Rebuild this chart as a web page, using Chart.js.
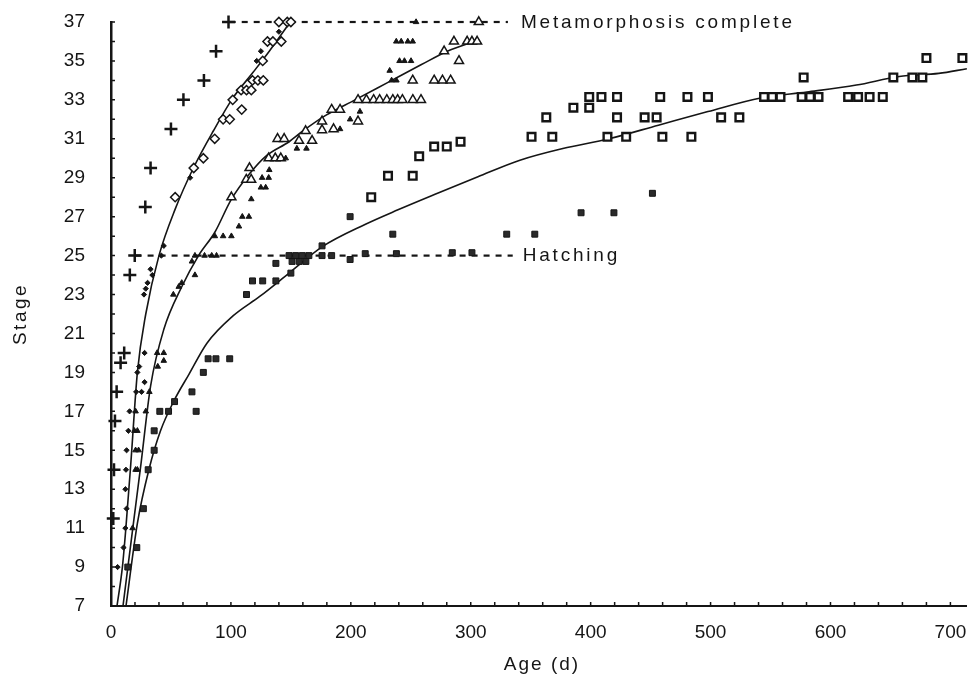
<!DOCTYPE html>
<html>
<head>
<meta charset="utf-8">
<script src="https://cdn.jsdelivr.net/npm/chart.js@4.4.0/dist/chart.umd.min.js"></script>
<style>
    html, body { margin: 0; padding: 0; background: #fff; }
    #wrap { width: 975px; height: 683px; position: relative; }
</style>
</head>
<body>
<div id="wrap"><canvas id="stageChart"></canvas></div>
<script>
// --- Data: [age (d), stage] ---
const plusPts = [[1.9,11.5],[2.5,14],[3.3,16.5],[4.7,18],[8,19.5],[11,20],[15.7,24],[19.8,25],
    [28.6,27.5],[33,29.5],[50,31.5],[60.4,33],[77.5,34],[87.6,35.5],[98,37]];

const diamondFilled = [[5.5,9],[10.5,10],[12,11],[13,12],[12,13],[12.5,14],[13,15],[14.5,16],[15.5,17],
    [21,18],[25.5,18],[28,18.5],[22,19],[23.5,19.3],[28,20],[27.5,23],[29,23.3],[30.5,23.6],[34.5,24],
    [33,24.3],[42,25],[44,25.5],[66,29],[121.5,35],[125,35.5],[140,36.5]];

const diamondOpen = [[53.5,28],[69,29.5],[77,30],[86.5,31],[93.5,32],[99,32],[101.5,33],[109,32.5],
    [108.5,33.5],[113,33.5],[117,33.5],[118,34],[122.5,34],[127,34],[126.5,35],[130.5,36],[135,36],
    [142,36],[140,37],[147,37],[150,37]];

const triFilled = [[18,11],[20.5,14],[22,14],[20.5,15],[23,15],[19.5,16],[22,16],[20.5,17],[29,17],
    [32,18],[39,19.3],[44,19.6],[38.5,20],[44,20],[52,23],[56.5,23.4],[59,23.6],[67.5,24.7],[70,24],
    [70,25],[78,25],[84,25],[88,25],[86.6,26],[93.5,26],[100.4,26],[106.7,26.5],[109.5,27],[115,27],
    [117,27.9],[125,28.5],[129,28.5],[126,29],[131.5,29],[132,29.4],[145.7,30],[155,30.5],[163,30.5],
    [191,31.5],[199.4,32],[207.6,32.4],[232.4,34.5],[234,34],[238,34],[240.6,35],[244.7,35],[250.2,35],
    [237.9,36],[242,36],[247.5,36],[251.6,36],[254.4,37]];

const triOpen = [[100.4,28],[112.8,28.9],[116.9,28.9],[115.5,29.5],[131.5,30],[137,30],[141.6,30],
    [138.9,31],[144.4,31],[156.8,30.9],[162.3,31.4],[167.7,30.9],[176,31.45],[176,31.9],[184,32.5],
    [191,32.5],[185.6,31.5],[206,31.9],[206,33],[213,33],[219,33],[224,33],[230,33],[235,33],[239,33],
    [243,33],[251.7,33],[258.5,33],[251.6,34],[269.5,34],[276.4,34],[283.2,34],[277.8,35.5],[290.2,35],
    [286,36],[297,36],[301,36],[305.3,36],[306.7,37]];

const sqFilled = [[14,9],[21.5,10],[27,12],[31,14],[36,15],[36,16],[40.7,17],[48,17],[53,17.5],
    [67.5,18],[71,17],[77,19],[81,19.7],[87.5,19.7],[99,19.7],[113,23],[118,23.7],[126.5,23.7],
    [137.5,23.7],[137.5,24.6],[150,24.1],[148.5,25],[154,25],[159.5,25],[165,25],[151,24.7],[157,24.7],
    [162.5,24.7],[176,25.5],[176,25],[184,25],[199.4,24.8],[199.4,27],[212,25.1],[235,26.1],[238,25.1],
    [284.6,25.15],[301,25.15],[330,26.1],[353.4,26.1],[392,27.2],[419.4,27.2],[451.5,28.2]];

const sqOpen = [[217,28],[231,29.1],[251.6,29.1],[257,30.1],[269.5,30.6],[280,30.6],[291.5,30.85],
    [350.7,31.1],[368,31.1],[363,32.1],[385.6,32.6],[398.8,32.6],[398.8,33.15],[409,33.15],[422,33.15],
    [422,32.1],[414,31.1],[429.6,31.1],[445,32.1],[455,32.1],[458,33.15],[459.8,31.1],[480.7,33.15],
    [497.8,33.15],[484,31.1],[508.8,32.1],[524,32.1],[544.6,33.15],[551.4,33.15],[558.3,33.15],
    [577.6,34.15],[576,33.15],[583,33.15],[590,33.15],[614.7,33.15],[623,33.15],[632.6,33.15],
    [643.6,33.15],[652.4,34.15],[668.3,34.15],[676.6,34.15],[680,35.15],[710,35.15]];

// fitted curves
const fitDiamond = [[5,7],[9.5,9],[12.4,11],[16.5,14.3],[22,19],[29,22],[40,25],[53.6,27.4],
    [68.7,29.5],[85.3,31.4],[101.7,33.1],[118.3,34.4],[132,35.5],[149.5,37]];
const fitTriangle = [[10,7],[19,11.4],[25,14.3],[33,18.3],[44,21.2],[59,23.4],[73,25],[86.6,26.2],
    [100,27.85],[115.5,29.2],[129,30.1],[148.5,30.85],[160,31.4],[179,32.2],[203.5,33],[231,33.9],
    [258.5,34.8],[280.5,35.5],[303,36]];
const fitSquare = [[12.5,7],[22,11.25],[31.6,14],[41.3,16],[53,17.6],[65,18.9],[80,20.5],[101.7,21.9],
    [124,22.9],[148.5,24.1],[176,25.45],[211.8,26.6],[239.3,27.35],[272.3,28.2],[306,29.05],[341,29.9],
    [376.8,30.5],[415.3,31],[456.5,31.7],[497.8,32.4],[541.8,33.1],[580.3,33.4],[621.6,33.76],
    [657.3,34.2],[690.3,34.36],[713.7,34.6]];

// reference lines
const metaLine = [[99,37],[331,37]];
const hatchLine = [[20.5,25],[335,25]];
const metaLabel = "Metamorphosis complete";
const hatchLabel = "Hatching";

// axes
const xMin = 0, xMax = 713;
const yMin = 7, yMax = 37;
const xTickLabels = [0, 100, 200, 300, 400, 500, 600, 700];
const yTickLabels = [7, 9, 11, 13, 15, 17, 19, 21, 23, 25, 27, 29, 31, 33, 35, 37];
const xMinorStep = 20, yMinorStep = 1;

const FONT = "'Liberation Sans', Arial, Helvetica, sans-serif";
const INK = '#151515';

const toXY = arr => arr.map(p => ({ x: p[0], y: p[1] }));

function pointSet(data, style, radius, fill, bw) {
    return {
        data: toXY(data),
        pointStyle: style,
        pointRadius: radius,
        pointHoverRadius: radius,
        pointBackgroundColor: fill,
        pointBorderColor: INK,
        pointBorderWidth: bw,
        showLine: false,
        clip: false
    };
}

function lineSet(data, width, dash) {
    return {
        data: toXY(data),
        showLine: true,
        borderColor: INK,
        borderWidth: width,
        borderDash: dash || [],
        pointRadius: 0,
        cubicInterpolationMode: dash ? 'default' : 'monotone',
        tension: dash ? 0 : 0.4,
        fill: false,
        clip: false
    };
}

// minor ticks every step, labels only where listed
function minorTicks(min, max, step) {
    const out = [];
    for (let v = min; v <= max + 1e-9; v += step) out.push({ value: v });
    return out;
}

// --- inner tick marks + labels drawn on top ---
const decorPlugin = {
    id: 'decor',
    afterDraw(chart) {
        const { ctx, chartArea: a, scales: { x, y } } = chart;
        ctx.save();
        ctx.strokeStyle = INK;
        ctx.lineWidth = 1.5;
        ctx.beginPath();
        x.ticks.forEach(t => {
            const px = x.getPixelForValue(t.value);
            ctx.moveTo(px, a.bottom);
            ctx.lineTo(px, a.bottom - 4);
        });
        y.ticks.forEach(t => {
            const py = y.getPixelForValue(t.value);
            ctx.moveTo(a.left, py);
            ctx.lineTo(a.left + 4, py);
        });
        ctx.stroke();

        ctx.fillStyle = INK;
        ctx.font = '19px ' + FONT;
        ctx.letterSpacing = '2.8px';
        ctx.textBaseline = 'middle';
        ctx.textAlign = 'left';
        ctx.fillText(metaLabel, x.getPixelForValue(metaLine[1][0]) + 13, y.getPixelForValue(metaLine[1][1]) + 0.5);
        ctx.fillText(hatchLabel, x.getPixelForValue(hatchLine[1][0]) + 10, y.getPixelForValue(hatchLine[1][1]) + 0.5);

        // axis titles
        ctx.letterSpacing = '2px';
        ctx.textAlign = 'center';
        ctx.fillText('Age (d)', 542, 665);
        ctx.save();
        ctx.translate(21, (a.top + a.bottom) / 2);
        ctx.rotate(-Math.PI / 2);
        ctx.letterSpacing = '2.5px';
        ctx.fillText('Stage', 0, 0);
        ctx.restore();
        ctx.restore();
    }
};

const ctx = document.getElementById('stageChart').getContext('2d');
new Chart(ctx, {
    type: 'scatter',
    data: {
        datasets: [
            pointSet(plusPts, 'cross', 6.5, INK, 2.5),
            pointSet(diamondFilled, 'rectRot', 2.6, INK, 1),
            pointSet(diamondOpen, 'rectRot', 4.6, '#fff', 1.5),
            pointSet(triFilled, 'triangle', 3.2, INK, 1),
            pointSet(triOpen, 'triangle', 5.2, '#fff', 1.5),
            pointSet(sqFilled, 'rect', 4.2, '#2a2a2a', 1),
            pointSet(sqOpen, 'rect', 5.4, '#fff', 2.4),
            lineSet(fitDiamond, 1.6),
            lineSet(fitTriangle, 1.6),
            lineSet(fitSquare, 1.6),
            lineSet(metaLine, 2.2, [6, 6]),
            lineSet(hatchLine, 2.2, [6, 6])
        ]
    },
    options: {
        responsive: true,
        maintainAspectRatio: false,
        animation: false,
        layout: { padding: { top: 22, right: 0, left: 0, bottom: 0 } },
        plugins: {
            legend: { display: false },
            tooltip: { enabled: false }
        },
        scales: {
            x: {
                type: 'linear',
                min: xMin,
                max: xMax,
                afterBuildTicks: s => { s.ticks = minorTicks(0, 700, xMinorStep); },
                afterFit: s => { s.height = 77; s.paddingLeft = 0; s.paddingRight = 0; },
                grid: { display: false, drawTicks: false },
                border: { display: true, color: INK, width: 2 },
                ticks: {
                    autoSkip: false,
                    maxRotation: 0,
                    padding: 15,
                    color: INK,
                    font: { family: FONT, size: 19 },
                    callback: v => xTickLabels.includes(v) ? String(v) : ''
                }
            },
            y: {
                type: 'linear',
                min: yMin,
                max: yMax,
                afterBuildTicks: s => { s.ticks = minorTicks(yMin, yMax, yMinorStep); },
                afterFit: s => { s.width = 111; s.paddingTop = 0; s.paddingBottom = 0; },
                grid: { display: false, drawTicks: false },
                border: { display: true, color: INK, width: 2.5 },
                ticks: {
                    autoSkip: false,
                    padding: 26,
                    color: INK,
                    font: { family: FONT, size: 19 },
                    callback: v => yTickLabels.includes(v) ? String(v) : ''
                }
            }
        }
    },
    plugins: [decorPlugin]
});
</script>
</body>
</html>
